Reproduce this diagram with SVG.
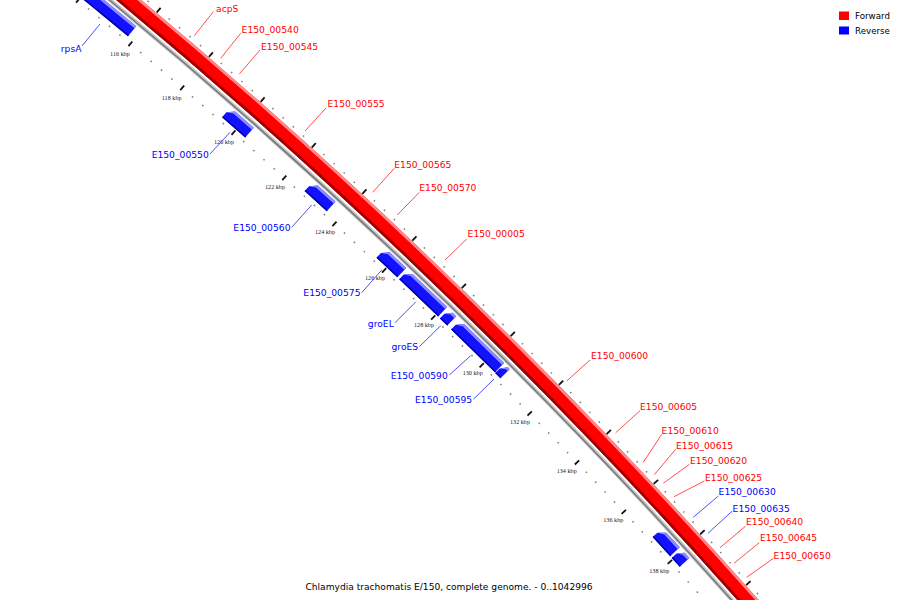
<svg xmlns="http://www.w3.org/2000/svg" xmlns:xlink="http://www.w3.org/1999/xlink" width="900" height="600" viewBox="0 0 900 600">
<style>
.lbl{font-family:"DejaVu Sans",sans-serif;font-size:9.2px}
.fw{fill:#ff0000}
.rv{fill:#0000ff}
.tk{font-family:"Liberation Serif",serif;font-size:6.2px;fill:#222;text-anchor:middle}
.cf{stroke:#ff3a3a;stroke-width:0.9;fill:none}
.cr{stroke:#3a3aff;stroke-width:0.9;fill:none}
.bm{fill:#1212ff}.bl{fill:#8c8cff}.bd{fill:#0000a8}
.maj{stroke:#111;stroke-width:1.8}
.mnr{stroke:#808080;stroke-width:1.5}
.leg{font-family:"DejaVu Sans",sans-serif;font-size:8.7px;fill:#000}
</style>
<defs>
<g id="mn">
<line class="mnr" x1="0" y1="-5647.2" x2="0" y2="-5648.8"/>
<line class="mnr" x1="0" y1="-5691.2" x2="0" y2="-5692.8"/>
</g>
<g id="cell">
<line class="maj" x1="0" y1="-5645" x2="0" y2="-5651"/>
<line class="maj" x1="0" y1="-5689" x2="0" y2="-5695"/>
<use href="#mn" xlink:href="#mn" transform="rotate(0.1380638)"/>
<use href="#mn" xlink:href="#mn" transform="rotate(0.2761276)"/>
<use href="#mn" xlink:href="#mn" transform="rotate(0.4141914)"/>
<use href="#mn" xlink:href="#mn" transform="rotate(0.5522552)"/>
</g>
</defs>
<rect width="900" height="600" fill="#fff"/>

<g id="backbone" fill="none">
<circle cx="-3503" cy="4368" r="5668.5" stroke="#c4c4c4" stroke-width="4"/>
<circle cx="-3503" cy="4368" r="5668.2" stroke="#777" stroke-width="1.4"/>
</g>

<g id="forward-strand" fill="none">
<circle cx="-3503" cy="4368" r="5680.5" stroke="#ff0000" stroke-width="16"/>
<circle cx="-3503" cy="4368" r="5673.8" stroke="#a00000" stroke-width="2.8"/>
<circle cx="-3503" cy="4368" r="5687.2" stroke="#ff8a8a" stroke-width="2.6"/>
</g>

<g id="reverse-strand">
<g id="gene-rpsA" transform="translate(-3503,4368) rotate(39.3758) translate(0,-5652)">
<polygon class="bm" points="0,0 0,-6.5 6,-13 58.64,-13 58.64,0"/>
<polygon class="bl" points="0.3,-6.8 6,-13 58.64,-13 58.64,-10.3 6,-10.3"/>
<polygon class="bd" points="0,0 58.64,0 58.64,-1.5 0,-1.5"/>
</g>
<g id="gene-E150_00550" transform="translate(-3503,4368) rotate(41.2293) translate(0,-5652)">
<polygon class="bm" points="0,0 0,-6.5 6,-13 30.68,-13 30.68,0"/>
<polygon class="bl" points="0.3,-6.8 6,-13 30.68,-13 30.68,-10.3 6,-10.3"/>
<polygon class="bd" points="0,0 30.68,0 30.68,-1.5 0,-1.5"/>
</g>
<g id="gene-E150_00560" transform="translate(-3503,4368) rotate(42.3511) translate(0,-5652)">
<polygon class="bm" points="0,0 0,-6.5 6,-13 30,-13 30,0"/>
<polygon class="bl" points="0.3,-6.8 6,-13 30,-13 30,-10.3 6,-10.3"/>
<polygon class="bd" points="0,0 30,0 30,-1.5 0,-1.5"/>
</g>
<g id="gene-E150_00575" transform="translate(-3503,4368) rotate(43.3451) translate(0,-5652)">
<polygon class="bm" points="0,0 0,-6.5 6,-13 28.64,-13 28.64,0"/>
<polygon class="bl" points="0.3,-6.8 6,-13 28.64,-13 28.64,-10.3 6,-10.3"/>
<polygon class="bd" points="0,0 28.64,0 28.64,-1.5 0,-1.5"/>
</g>
<g id="gene-groEL" transform="translate(-3503,4368) rotate(43.6627) translate(0,-5652)">
<polygon class="bm" points="0,0 0,-6.5 6,-13 53.86,-13 53.86,0"/>
<polygon class="bl" points="0.3,-6.8 6,-13 53.86,-13 53.86,-10.3 6,-10.3"/>
<polygon class="bd" points="0,0 53.86,0 53.86,-1.5 0,-1.5"/>
</g>
<g id="gene-groES" transform="translate(-3503,4368) rotate(44.2356) translate(0,-5652)">
<polygon class="bm" points="0,0 0,-6.5 5,-13 10.23,-13 10.23,0"/>
<polygon class="bl" points="0.3,-6.8 5,-13 10.23,-13 10.23,-10.3 5,-10.3"/>
<polygon class="bd" points="0,0 10.23,0 10.23,-1.5 0,-1.5"/>
</g>
<g id="gene-E150_00590" transform="translate(-3503,4368) rotate(44.3944) translate(0,-5652)">
<polygon class="bm" points="0,0 0,-6.5 6,-13 61.36,-13 61.36,0"/>
<polygon class="bl" points="0.3,-6.8 6,-13 61.36,-13 61.36,-10.3 6,-10.3"/>
<polygon class="bd" points="0,0 61.36,0 61.36,-1.5 0,-1.5"/>
</g>
<g id="gene-E150_00595" transform="translate(-3503,4368) rotate(45.0226) translate(0,-5652)">
<polygon class="bm" points="0,0 0,-6.5 5,-13 7.5,-13 7.5,0"/>
<polygon class="bl" points="0.3,-6.8 5,-13 7.5,-13 7.5,-10.3 5,-10.3"/>
<polygon class="bd" points="0,0 7.5,0 7.5,-1.5 0,-1.5"/>
</g>
<g id="gene-E150_00630" transform="translate(-3503,4368) rotate(47.3283) translate(0,-5652)">
<polygon class="bm" points="0,0 0,-6.5 6,-13 25.91,-13 25.91,0"/>
<polygon class="bl" points="0.3,-6.8 6,-13 25.91,-13 25.91,-10.3 6,-10.3"/>
<polygon class="bd" points="0,0 25.91,0 25.91,-1.5 0,-1.5"/>
</g>
<g id="gene-E150_00635" transform="translate(-3503,4368) rotate(47.6147) translate(0,-5652)">
<polygon class="bm" points="0,0 0,-6.5 5,-13 11.93,-13 11.93,0"/>
<polygon class="bl" points="0.3,-6.8 5,-13 11.93,-13 11.93,-10.3 5,-10.3"/>
<polygon class="bd" points="0,0 11.93,0 11.93,-1.5 0,-1.5"/>
</g>
</g>

<g id="ruler">
<g transform="translate(-3503,4368)">
<use href="#cell" xlink:href="#cell" transform="rotate(38.65786)"/>
<use href="#cell" xlink:href="#cell" transform="rotate(39.34818)"/>
<use href="#cell" xlink:href="#cell" transform="rotate(40.03850)"/>
<use href="#cell" xlink:href="#cell" transform="rotate(40.72882)"/>
<use href="#cell" xlink:href="#cell" transform="rotate(41.41914)"/>
<use href="#cell" xlink:href="#cell" transform="rotate(42.10946)"/>
<use href="#cell" xlink:href="#cell" transform="rotate(42.79978)"/>
<use href="#cell" xlink:href="#cell" transform="rotate(43.49010)"/>
<use href="#cell" xlink:href="#cell" transform="rotate(44.18042)"/>
<use href="#cell" xlink:href="#cell" transform="rotate(44.87074)"/>
<use href="#cell" xlink:href="#cell" transform="rotate(45.56105)"/>
<use href="#cell" xlink:href="#cell" transform="rotate(46.25137)"/>
<use href="#cell" xlink:href="#cell" transform="rotate(46.94169)"/>
<use href="#cell" xlink:href="#cell" transform="rotate(47.63201)"/>
<use href="#cell" xlink:href="#cell" transform="rotate(48.32233)"/>
</g>
<text class="tk" x="120" y="56">116 kbp</text>
<text class="tk" x="171.7" y="100.3">118 kbp</text>
<text class="tk" x="224" y="144.3">120 kbp</text>
<text class="tk" x="275" y="189.3">122 kbp</text>
<text class="tk" x="325" y="233.7">124 kbp</text>
<text class="tk" x="375" y="279.7">126 kbp</text>
<text class="tk" x="424" y="327">128 kbp</text>
<text class="tk" x="472.7" y="375">130 kbp</text>
<text class="tk" x="520" y="424">132 kbp</text>
<text class="tk" x="566.7" y="473">134 kbp</text>
<text class="tk" x="613.3" y="522">136 kbp</text>
<text class="tk" x="659.3" y="573">138 kbp</text>
</g>

<g id="connectors">
<line class="cf" x1="213.3" y1="11.7" x2="194.3" y2="35.7"/>
<line class="cf" x1="240.7" y1="33.3" x2="220.7" y2="58.3"/>
<line class="cf" x1="260" y1="50" x2="239.3" y2="74"/>
<line class="cf" x1="326" y1="108" x2="305" y2="131"/>
<line class="cf" x1="394.3" y1="168.3" x2="372.7" y2="192.3"/>
<line class="cf" x1="419.3" y1="192.3" x2="397.3" y2="215"/>
<line class="cf" x1="466.7" y1="239" x2="445" y2="260"/>
<line class="cf" x1="590" y1="360" x2="566.7" y2="381"/>
<line class="cf" x1="640" y1="410.7" x2="615.7" y2="432.7"/>
<line class="cf" x1="661.7" y1="434.3" x2="643.3" y2="462.3"/>
<line class="cf" x1="675.7" y1="449.3" x2="654.3" y2="474.7"/>
<line class="cf" x1="689.3" y1="464.3" x2="663.3" y2="483.3"/>
<line class="cf" x1="704.3" y1="481" x2="674" y2="496.7"/>
<line class="cr" x1="718.3" y1="496" x2="693.3" y2="517.3"/>
<line class="cr" x1="732.3" y1="511" x2="708" y2="533.3"/>
<line class="cf" x1="745.7" y1="526" x2="720" y2="547.7"/>
<line class="cf" x1="759.3" y1="542.7" x2="734" y2="563.3"/>
<line class="cf" x1="773.3" y1="558.3" x2="746.7" y2="577.3"/>
<line class="cr" x1="82" y1="46" x2="100" y2="24"/>
<line class="cr" x1="210" y1="154" x2="230" y2="132.3"/>
<line class="cr" x1="291.7" y1="227.3" x2="311.7" y2="205"/>
<line class="cr" x1="361.7" y1="292.7" x2="381.7" y2="270"/>
<line class="cr" x1="395" y1="322.7" x2="416" y2="301.7"/>
<line class="cr" x1="419.3" y1="346.7" x2="440.7" y2="325.7"/>
<line class="cr" x1="449.3" y1="375" x2="470.7" y2="355.7"/>
<line class="cr" x1="473.3" y1="399.3" x2="494" y2="379"/>
</g>

<g id="labels">
<text id="lbl-acpS" class="lbl fw" x="216" y="11.8">acpS</text>
<text id="lbl-E150_00540" class="lbl fw" x="241.6" y="32.8">E150_00540</text>
<text id="lbl-E150_00545" class="lbl fw" x="261" y="49.5">E150_00545</text>
<text id="lbl-E150_00555" class="lbl fw" x="327.5" y="107">E150_00555</text>
<text id="lbl-E150_00565" class="lbl fw" x="394.3" y="167.5">E150_00565</text>
<text id="lbl-E150_00570" class="lbl fw" x="419.3" y="191.1">E150_00570</text>
<text id="lbl-E150_00005" class="lbl fw" x="467.6" y="236.8">E150_00005</text>
<text id="lbl-E150_00600" class="lbl fw" x="591" y="358.5">E150_00600</text>
<text id="lbl-E150_00605" class="lbl fw" x="640" y="410.1">E150_00605</text>
<text id="lbl-E150_00610" class="lbl fw" x="661.6" y="433.5">E150_00610</text>
<text id="lbl-E150_00615" class="lbl fw" x="676" y="448.5">E150_00615</text>
<text id="lbl-E150_00620" class="lbl fw" x="690" y="464.1">E150_00620</text>
<text id="lbl-E150_00625" class="lbl fw" x="705" y="480.8">E150_00625</text>
<text id="lbl-E150_00630" class="lbl rv" x="718.6" y="495.1">E150_00630</text>
<text id="lbl-E150_00635" class="lbl rv" x="732.6" y="511.8">E150_00635</text>
<text id="lbl-E150_00640" class="lbl fw" x="746" y="525.1">E150_00640</text>
<text id="lbl-E150_00645" class="lbl fw" x="760" y="541.1">E150_00645</text>
<text id="lbl-E150_00650" class="lbl fw" x="773.6" y="558.5">E150_00650</text>
<text id="lbl-rpsA" class="lbl rv" x="81.5" y="51.8" text-anchor="end">rpsA</text>
<text id="lbl-E150_00550" class="lbl rv" x="208.8" y="157.5" text-anchor="end">E150_00550</text>
<text id="lbl-E150_00560" class="lbl rv" x="290.5" y="230.8" text-anchor="end">E150_00560</text>
<text id="lbl-E150_00575" class="lbl rv" x="360.5" y="296.1" text-anchor="end">E150_00575</text>
<text id="lbl-groEL" class="lbl rv" x="393.8" y="326.8" text-anchor="end">groEL</text>
<text id="lbl-groES" class="lbl rv" x="418.2" y="350.1" text-anchor="end">groES</text>
<text id="lbl-E150_00590" class="lbl rv" x="447.8" y="378.5" text-anchor="end">E150_00590</text>
<text id="lbl-E150_00595" class="lbl rv" x="472.2" y="402.8" text-anchor="end">E150_00595</text>
</g>

<g id="legend">
<rect x="839" y="11.5" width="10" height="8.5" fill="#ff0000"/>
<rect x="839" y="26.5" width="10" height="8" fill="#0000ff"/>
<text class="leg" x="855" y="19.3">Forward</text>
<text class="leg" x="855" y="34.3">Reverse</text>
</g>

<text id="title" x="449" y="589.5" text-anchor="middle" font-family="DejaVu Sans, sans-serif" font-size="9.1" fill="#000">Chlamydia trachomatis E/150, complete genome. - 0..1042996</text>
</svg>
